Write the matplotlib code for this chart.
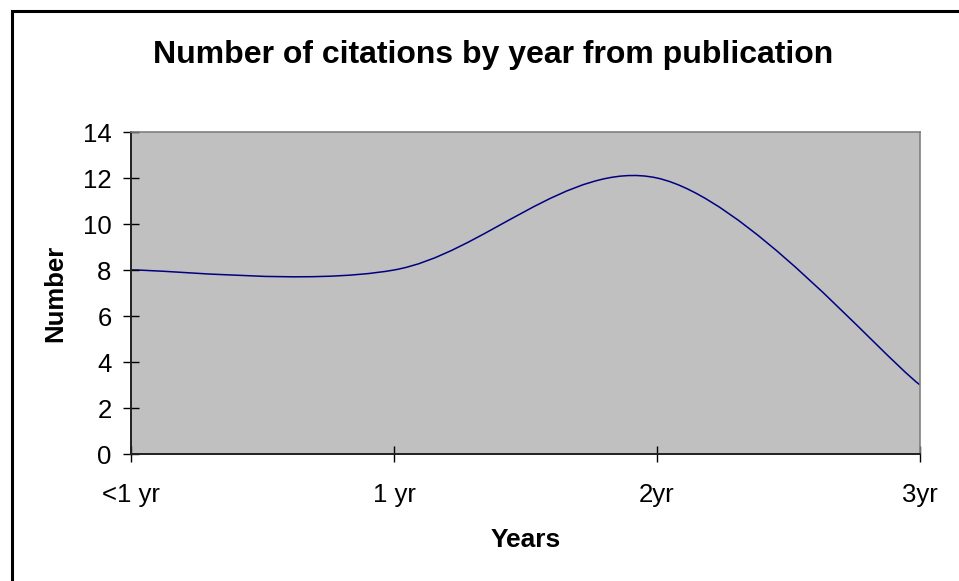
import numpy as np
import matplotlib.pyplot as plt
from matplotlib.path import Path
from matplotlib.patches import PathPatch, Rectangle

plt.rcParams['font.family'] = ['Liberation Sans', 'DejaVu Sans']

# citations per year since publication
years = ['<1 yr', '1 yr', '2yr', '3yr']
citations = [8, 8, 12, 3]

W, H = 959, 581
fig = plt.figure(figsize=(W / 100, H / 100), dpi=100)
ax = fig.add_axes([131 / W, 1 - 454 / H, (920 - 131) / W, (454 - 132) / H])
ax.set_facecolor('#C0C0C0')

# smoothed line (Bezier segments through the points, like a spreadsheet "smoothed line")
x = np.arange(len(citations), dtype=float)
y = np.array(citations, dtype=float)
pts = np.column_stack([x, y])
ext = np.vstack([pts[0], pts, pts[-1]])
verts = [tuple(pts[0])]
codes = [Path.MOVETO]
for i in range(len(pts) - 1):
    p0, p1, p2, p3 = ext[i], ext[i + 1], ext[i + 2], ext[i + 3]
    c1 = p1 + (p2 - p0) / 6
    c2 = p2 - (p3 - p1) / 6
    verts += [tuple(c1), tuple(c2), tuple(p2)]
    codes += [Path.CURVE4] * 3
ax.add_patch(PathPatch(Path(verts, codes), fill=False, edgecolor='#000080', lw=1.1))

ax.set_xlim(0, len(years) - 1)
ax.set_ylim(0, 14)
ax.set_xticks(x)
ax.set_xticklabels(years)
ax.set_yticks(range(0, 15, 2))
ax.tick_params(axis='both', direction='inout', length=12, width=1, colors='black', labelsize=18.5)
ax.tick_params(axis='x', pad=15)
ax.tick_params(axis='y', pad=8)

for side in ['top', 'right']:
    ax.spines[side].set_color('#808080')
    ax.spines[side].set_linewidth(1.2)
for side in ['left', 'bottom']:
    ax.spines[side].set_color('#202020')
    ax.spines[side].set_linewidth(1.4)

ax.set_xlabel('Years', fontsize=19, fontweight='bold', labelpad=15)
ax.set_ylabel('Number', fontsize=18.5, fontweight='bold', labelpad=11)
fig.text(493 / W, 1 - 63 / H, 'Number of citations by year from publication',
         ha='center', va='baseline', fontsize=23, fontweight='bold')

# chart frame
fig.add_artist(Rectangle((12 / W, -0.1), 2, 1 - 11 / H + 0.1, transform=fig.transFigure,
                         fill=False, edgecolor='black', lw=2.2))

fig.savefig('out.png', dpi=100)
